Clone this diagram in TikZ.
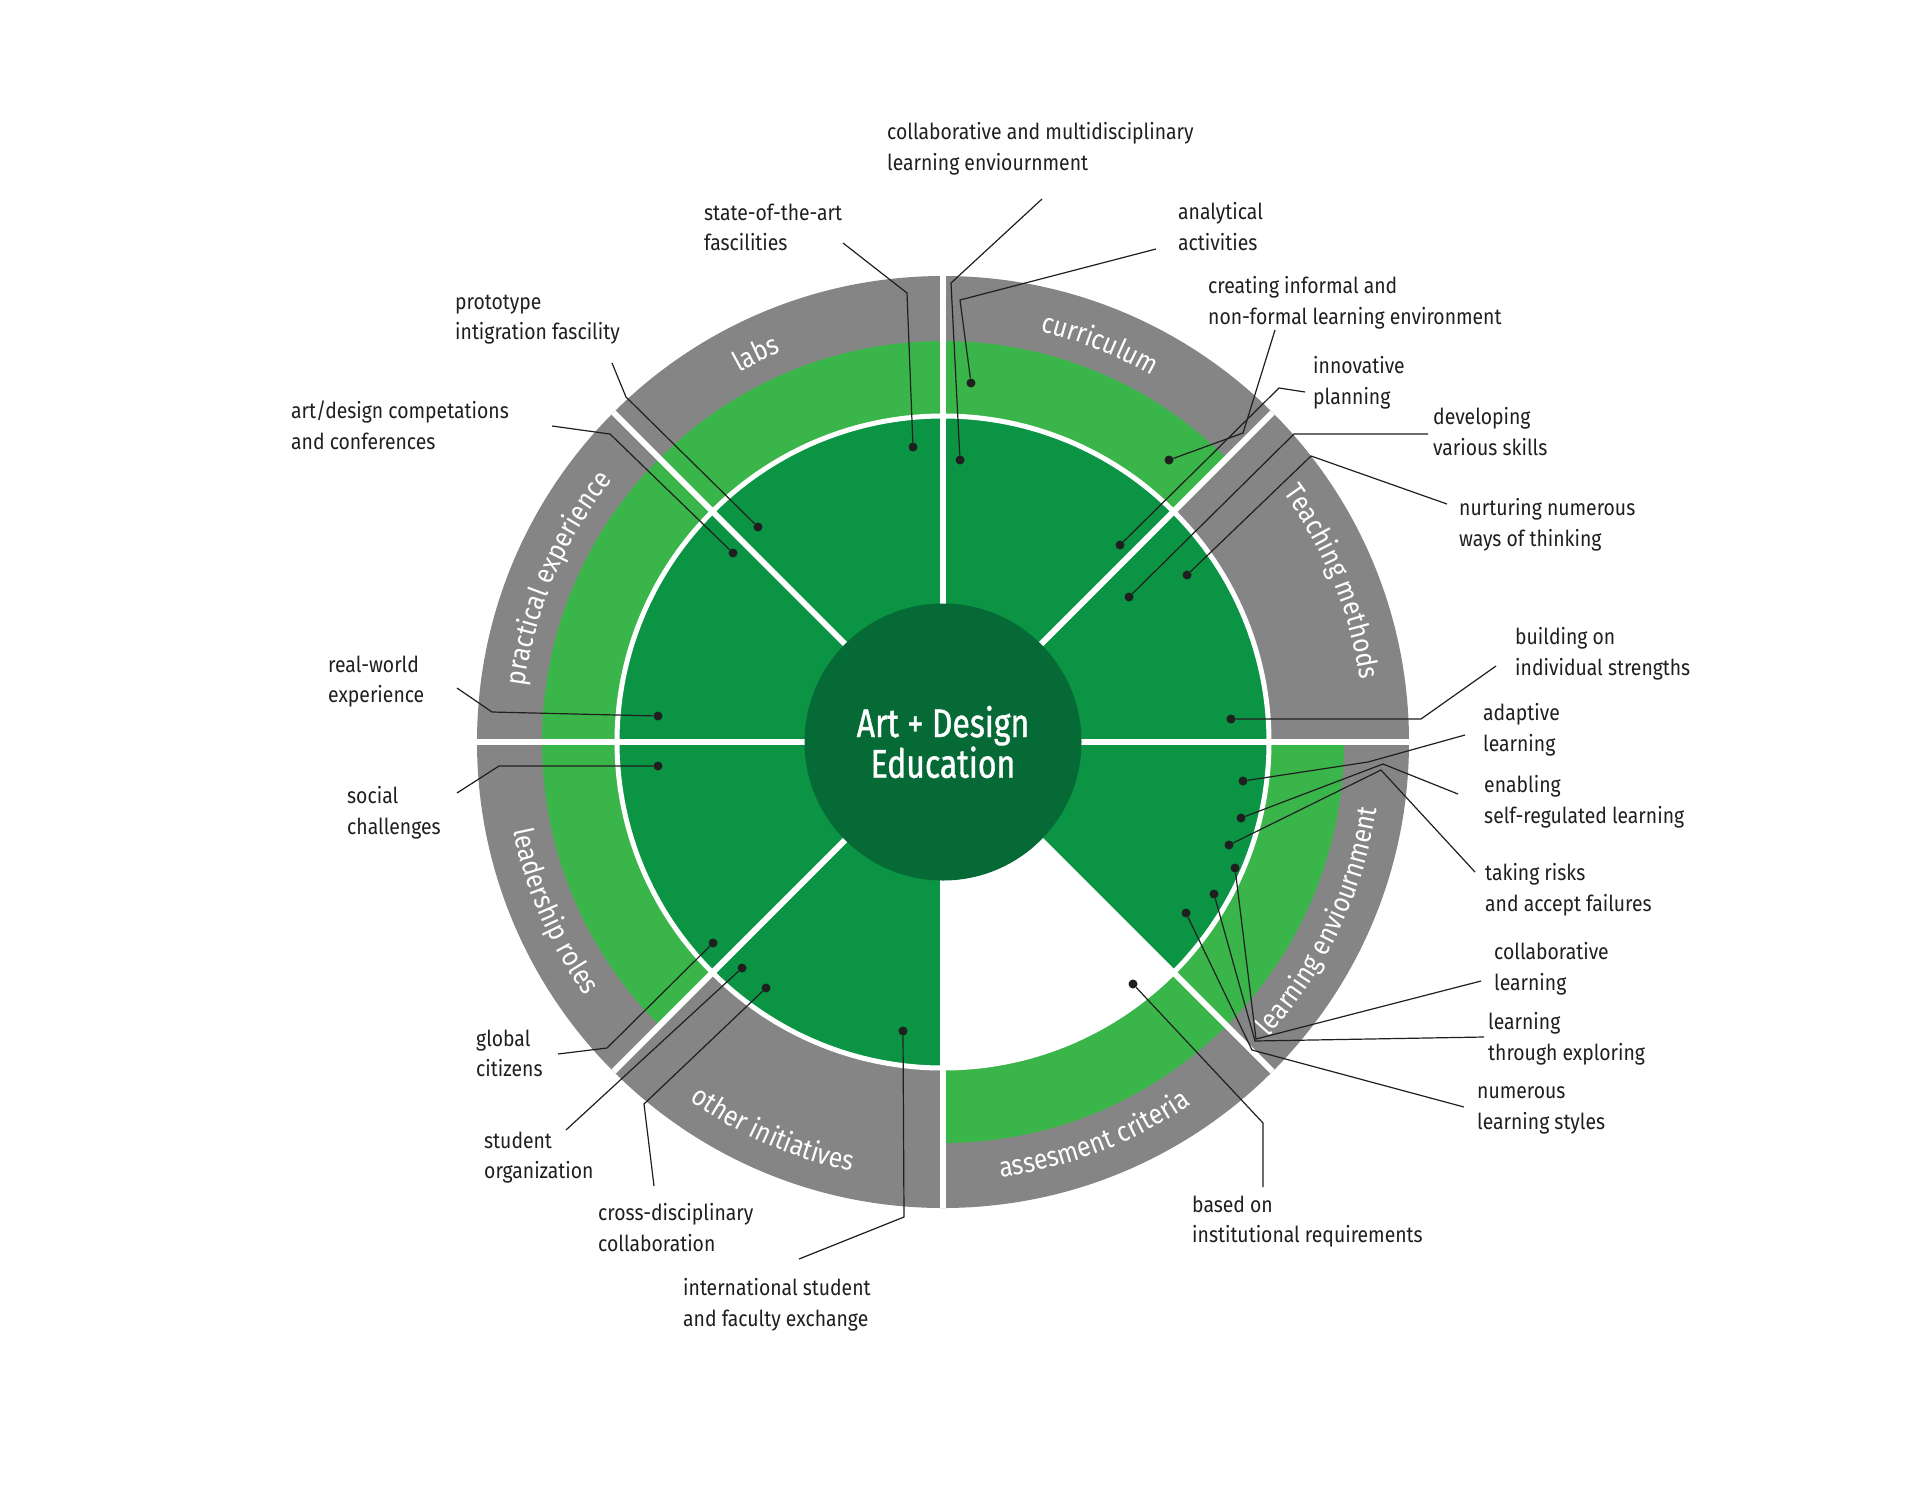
\documentclass[tikz,border=0pt]{standalone}
\usepackage{fontspec}
\setmainfont{Fira Sans}[FakeStretch=0.88]
\newfontfamily\ctrfont{Fira Sans}[FakeStretch=0.80,FakeBold=1.0]
\usetikzlibrary{decorations.text}
\definecolor{ringgray}{HTML}{858585}
\definecolor{lightgreen}{HTML}{3AB54A}
\definecolor{midgreen}{HTML}{0B9444}
\definecolor{coregreen}{HTML}{066A37}
\definecolor{ink}{HTML}{1F1F1F}
\newcommand{\ringfont}{\fontsize{28}{28}\selectfont}
\tikzset{
  lbl/.style={font=\fontsize{22}{30.5}\selectfont, align=left, anchor=north west, inner sep=0pt, yshift=-5pt, text=ink, execute at begin node=\strut},
  lead/.style={draw=ink, line width=1.2pt},
  dotpt/.style={circle, fill=ink, minimum size=9pt, inner sep=0pt},
  divider/.style={draw=white, line width=6pt},
  ringtext/.style={decorate, decoration={text along path, text={|\ringfont|#1}, text align=center, text color=white}},
}
\begin{document}
\begin{tikzpicture}[x=1pt,y=1pt]
\useasboundingbox (0,0) rectangle (1920,-1484);
\fill[white] (0,0) rectangle (1920,-1484);

\begin{scope}[shift={(943,-742)}]
  % outer gray ring
  \fill[ringgray] (0,0) circle[radius=466];
  % light green ring sectors
  \fill[lightgreen] (0,0) -- (45:401) arc[start angle=45, end angle=225, radius=401] -- cycle;
  \fill[lightgreen] (0,0) -- (-90:401) arc[start angle=-90, end angle=0, radius=401] -- cycle;
  % middle dark green
  \fill[midgreen] (0,0) -- (-45:326) arc[start angle=-45, end angle=270, radius=326] -- cycle;
  \fill[white] (0,0) -- (-90:326) arc[start angle=-90, end angle=-45, radius=326] -- cycle;
  % white separating circle
  \draw[white, line width=5pt] (0,0) circle[radius=326];
  % dividers
  \foreach \a in {0,45,...,315} \draw[divider] (0,0) -- (\a:466);
  % ring labels (top half: clockwise, bottom half: counter-clockwise)
  \path[ringtext={labs}] (155.7:422) arc[start angle=155.7, end angle=75.7, radius=422];
  \path[ringtext={curriculum}] (108.5:422) arc[start angle=108.5, end angle=28.5, radius=422];
  \path[ringtext={Teaching methods}] (62.4:422) arc[start angle=62.4, end angle=-17.6, radius=422];
  \path[ringtext={practical experience}] (197:422) arc[start angle=197, end angle=117, radius=422];
  \path[ringtext={learning enviournment}] (-65.5:439) arc[start angle=-65.5, end angle=14.5, radius=439];
  \path[ringtext={assesment criteria}] (-109:439) arc[start angle=-109, end angle=-29, radius=439];
  \path[ringtext={other initiatives}] (-153.6:439) arc[start angle=-153.6, end angle=-73.6, radius=439];
  \path[ringtext={leadership roles}] (163.5:439) arc[start angle=163.5, end angle=243.5, radius=439];
  % core
  \node[circle, fill=coregreen, minimum size=277pt, inner sep=0pt, text=white, align=center,
        font=\ctrfont\fontsize{40}{40.7}\selectfont] (core) at (0,0) {Art + Design\\Education};
\end{scope}

% ---------- labels ----------
\node[lbl] (tCollab)  at (887,-117.6)  {collaborative and multidisciplinary\\learning enviournment};
\node[lbl] (tState)   at (704,-198.6)  {state-of-the-art\\fascilities};
\node[lbl] (tAnalytic) at (1178,-197.6) {analytical\\activities};
\node[lbl] (tCreating) at (1208,-271.6) {creating informal and\\non-formal learning environment};
\node[lbl] (tProto)   at (455,-289.6)  {prototype\\intigration fascility};
\node[lbl] (tInnov)   at (1313,-351.6) {innovative\\planning};
\node[lbl] (tArtDes)  at (291,-395.6)  {art/design competations\\and conferences};
\node[lbl] (tDevelop) at (1433,-402.6) {developing\\various skills};
\node[lbl] (tNurture) at (1459,-493.6) {nurturing numerous\\ways of thinking};
\node[lbl] (tBuild)   at (1515,-622.6) {building on\\individual strengths};
\node[lbl] (tReal)    at (328,-650.6)  {real-world\\experience};
\node[lbl] (tAdapt)   at (1483,-698.6) {adaptive\\learning};
\node[lbl] (tEnable)  at (1484,-770.6) {enabling\\self-regulated learning};
\node[lbl] (tSocial)  at (347,-781.6)  {social\\challenges};
\node[lbl] (tRisk)    at (1485,-858.6) {taking risks\\and accept failures};
\node[lbl] (tCollabL) at (1494,-937.6) {collaborative\\learning};
\node[lbl] (tExplore) at (1488,-1007.6) {learning\\through exploring};
\node[lbl] (tGlobal)  at (476,-1024.6) {global\\citizens};
\node[lbl] (tNumerous) at (1477,-1081.6) {numerous\\learning styles};
\node[lbl] (tStudent) at (484,-1126.6) {student\\organization};
\node[lbl] (tBased)   at (1192,-1190.6) {based on\\institutional requirements};
\node[lbl] (tCross)   at (598,-1198.6) {cross-disciplinary\\collaboration};
\node[lbl] (tIntl)    at (683,-1273.6) {international student\\and faculty exchange};

% ---------- dots ----------
\node[dotpt] (dCollab)   at (960,-460) {};
\node[dotpt] (dState)    at (913,-447) {};
\node[dotpt] (dAnalytic) at (971,-383) {};
\node[dotpt] (dCreating) at (1169,-460) {};
\node[dotpt] (dProto)    at (758,-527) {};
\node[dotpt] (dInnov)    at (1120,-545) {};
\node[dotpt] (dArtDes)   at (733,-553) {};
\node[dotpt] (dDevelop)  at (1129,-597) {};
\node[dotpt] (dNurture)  at (1187,-575) {};
\node[dotpt] (dBuild)    at (1231,-719) {};
\node[dotpt] (dReal)     at (658,-716) {};
\node[dotpt] (dAdapt)    at (1243,-781) {};
\node[dotpt] (dEnable)   at (1241,-818) {};
\node[dotpt] (dSocial)   at (658,-766) {};
\node[dotpt] (dRisk)     at (1229,-845) {};
\node[dotpt] (dCollabL)  at (1235,-868) {};
\node[dotpt] (dExplore)  at (1214,-894) {};
\node[dotpt] (dGlobal)   at (713,-943) {};
\node[dotpt] (dNumerous) at (1186,-913) {};
\node[dotpt] (dStudent)  at (742,-968) {};
\node[dotpt] (dBased)    at (1133,-984) {};
\node[dotpt] (dCross)    at (766,-988) {};
\node[dotpt] (dIntl)     at (903,-1031) {};

% ---------- leader end points and elbows ----------
\coordinate (eCollab) at (1042,-199);   \coordinate (kCollab) at (951,-283);
\coordinate (eState) at (843,-243);     \coordinate (kState) at (907,-293);
\coordinate (eAnalytic) at (1156,-249); \coordinate (kAnalytic) at (960,-300);
\coordinate (eCreating) at (1275,-330); \coordinate (kCreating) at (1243,-433);
\coordinate (eProto) at (612,-363);     \coordinate (kProto) at (626,-397);
\coordinate (eInnov) at (1305,-392);    \coordinate (kInnov) at (1279,-388);
\coordinate (eArtDes) at (552,-426);    \coordinate (kArtDes) at (610,-434);
\coordinate (eDevelop) at (1428,-434);  \coordinate (kDevelop) at (1294,-434);
\coordinate (eNurture) at (1447,-504);  \coordinate (kNurture) at (1311,-456);
\coordinate (eBuild) at (1496,-666);    \coordinate (kBuild) at (1421,-719);
\coordinate (eReal) at (457,-688);      \coordinate (kReal) at (492,-712);
\coordinate (eAdapt) at (1465,-735);    \coordinate (kAdapt) at (1368,-762);
\coordinate (eEnable) at (1458,-794);   \coordinate (kEnable) at (1383,-764);
\coordinate (eSocial) at (457,-793);    \coordinate (kSocial) at (499,-766);
\coordinate (eRisk) at (1475,-872);     \coordinate (kRisk) at (1381,-770);
\coordinate (eCollabL) at (1481,-981);  \coordinate (kCollabL) at (1256,-1039);
\coordinate (eExplore) at (1484,-1037); \coordinate (kExplore) at (1255,-1041);
\coordinate (eGlobal) at (558,-1054);   \coordinate (kGlobal) at (607,-1048);
\coordinate (eNumerous) at (1464,-1107); \coordinate (kNumerous) at (1252,-1050);
\coordinate (eStudent) at (566,-1130);
\coordinate (eBased) at (1263,-1187);   \coordinate (kBased) at (1263,-1123);
\coordinate (eCross) at (654,-1186);    \coordinate (kCross) at (644,-1104);
\coordinate (eIntl) at (799,-1259);     \coordinate (kIntl) at (904,-1217);

% ---------- leaders ----------
\foreach \n in {Collab,State,Analytic,Creating,Proto,Innov,ArtDes,Develop,Nurture,Build,Real,Adapt,Enable,Social,Risk,CollabL,Explore,Global,Numerous,Based,Cross,Intl}
  \draw[lead] (e\n) -- (k\n) -- (d\n);
\draw[lead] (eStudent) -- (dStudent);
\end{tikzpicture}
\end{document}
